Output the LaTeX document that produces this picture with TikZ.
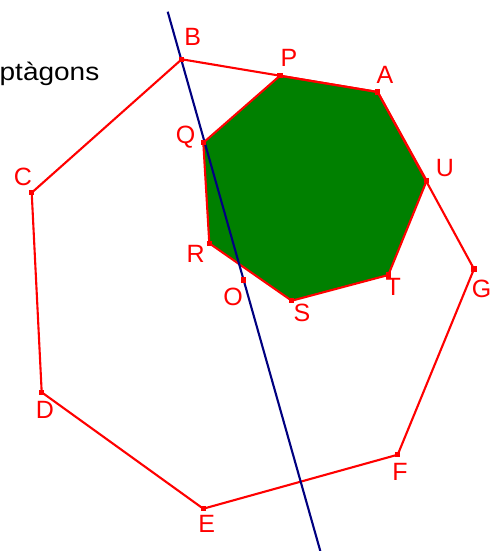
\documentclass[tikz,border=0pt]{standalone}
\usepackage{fontspec}
\setmainfont{Liberation Sans}
\definecolor{gred}{HTML}{FF0000}
\definecolor{ggreen}{HTML}{008000}
\definecolor{gblue}{HTML}{000080}
\begin{document}
\begin{tikzpicture}[x=1pt,y=-1pt,
  ptbox/.style={rectangle,fill=gred,minimum size=5.5pt,inner sep=0pt},
  lab/.style={text=gred,font=\fontsize{25}{25}\selectfont,inner sep=0pt},
  redline/.style={draw=gred,line width=2.1pt,line join=round},
  blueline/.style={draw=gblue,line width=2.1pt}]
\useasboundingbox (0,0) rectangle (501,551);
% points
\coordinate (B) at (181.7,59.3);
\coordinate (A) at (377.7,92);
\coordinate (G) at (474,269);
\coordinate (F) at (397.7,454.7);
\coordinate (E) at (203.3,508.7);
\coordinate (D) at (41.7,392.3);
\coordinate (C) at (31.7,192.7);
\coordinate (P) at (280,75.7);
\coordinate (U) at (426.7,180.7);
\coordinate (T) at (388.3,275);
\coordinate (S) at (291.7,300.7);
\coordinate (R) at (209.3,243.3);
\coordinate (Q) at (203.3,142.7);
\coordinate (O) at (243.3,280);
\coordinate (L1) at (167.7,11.7);
\coordinate (L2) at (320.3,551);
% small heptagon
\fill[ggreen] (P) -- (A) -- (U) -- (T) -- (S) -- (R) -- (Q) -- cycle;
\draw[redline] (P) -- (A) -- (U) -- (T) -- (S) -- (R) -- (Q) -- cycle;
% big heptagon
\draw[redline] (B) -- (A) -- (G) -- (F) -- (E) -- (D) -- (C) -- cycle;
% line
\draw[blueline] (L1) -- (L2);
% point markers
\foreach \p in {B,A,G,F,E,D,C,P,U,T,S,R,Q,O}
  \node[ptbox] (m\p) at (\p) {};
% labels
\node[lab] (lB) at (192.7,37) {B};
\node[lab] (lP) at (289,58.3) {P};
\node[lab] (lA) at (385,75) {A};
\node[lab] (lQ) at (185.7,137) {Q};
\node[lab] (lC) at (23,177) {C};
\node[lab] (lU) at (445,168) {U};
\node[lab] (lR) at (195.7,254) {R};
\node[lab] (lO) at (233,297) {O};
\node[lab] (lS) at (302,313) {S};
\node[lab] (lT) at (393.3,287) {T};
\node[lab] (lG) at (481.7,288.5) {G};
\node[lab] (lD) at (45,410) {D};
\node[lab] (lF) at (400,471.7) {F};
\node[lab] (lE) at (206.7,524) {E};
\node[anchor=base east,inner sep=0pt,font=\fontsize{25}{25}\selectfont] (title) at (99.5,80) {\scalebox{1.12}[1]{ptàgons}};
\end{tikzpicture}
\end{document}
